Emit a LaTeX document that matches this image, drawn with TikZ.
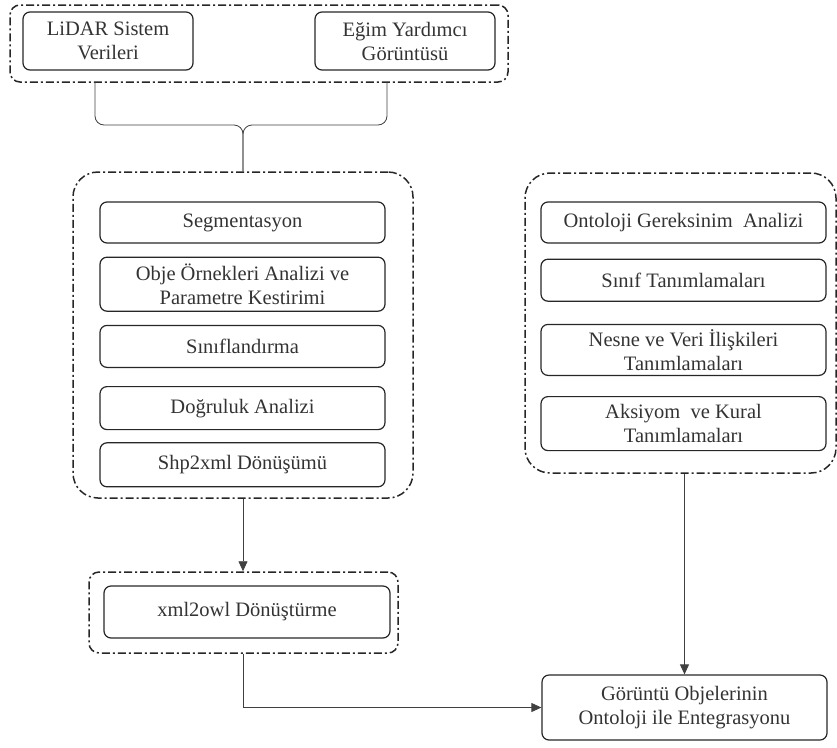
\documentclass[tikz,border=0pt]{standalone}
\usepackage{fontspec}
\setmainfont{Liberation Serif}
\usetikzlibrary{arrows.meta,positioning}

\begin{document}
\begin{tikzpicture}[
  x=1pt, y=-1pt,
  node distance=13pt,
  task/.style={draw=black!85, line width=1.2pt, rounded corners=7pt, minimum width=285pt, minimum height=42pt, align=center, inner sep=2pt, font=\fontsize{20.5}{24}\selectfont, text=black!80},
  group/.style={draw=black!85, line width=1.5pt, dash pattern=on 8pt off 3pt on 2pt off 3pt, rounded corners=25pt},
  link/.style={-{Triangle[width=9pt,length=10pt]}, line width=0.8pt, draw=black!75},
  brace/.style={line width=0.8pt, draw=black!75, rounded corners=9pt},
]
  \useasboundingbox (0,0) rectangle (837,747);

  % Inputs
  \node[group, rounded corners=10pt, minimum width=498pt, minimum height=77pt] (inputs) at (259,43.5) {};
  \node[task, minimum width=170pt, minimum height=58pt] (lidar) at (108,41) {LiDAR Sistem\\Verileri};
  \node[task, minimum width=180pt, minimum height=58pt] (egim) at (405,41) {Eğim Yardımcı\\Görüntüsü};

  % Image analysis
  \node[group, minimum width=340pt, minimum height=326pt] (analysis) at (243,335) {};
  \node[task, minimum height=41pt] (seg) at (242.5,222.5) {Segmentasyon};
  \node[task, minimum height=54pt, below=of seg] (obje) {Obje Örnekleri Analizi ve\\Parametre Kestirimi};
  \node[task, below=of obje] (sinif) {Sınıflandırma};
  \node[task, minimum height=43pt, below=18pt of sinif] (dogru) {Doğruluk Analizi};
  \node[task, minimum height=44pt, below=12pt of dogru] (shp) {Shp2xml Dönüşümü};

  % Conversion
  \node[group, rounded corners=10pt, minimum width=309pt, minimum height=81pt] (convert) at (243.5,612.5) {};
  \node[task, minimum width=286pt, minimum height=52pt] (xmlowl) at (247,612) {xml2owl Dönüştürme};

  % Ontology
  \node[group, minimum width=311pt, minimum height=300pt] (ontology) at (680.5,323) {};
  \node[task, minimum height=41pt] (req) at (683.5,222.5) {Ontoloji Gereksinim~ Analizi};
  \node[task, below=15pt of req] (cls) {Sınıf Tanımlamaları};
  \node[task, minimum height=51pt, below=22pt of cls] (rel) {Nesne ve Veri İlişkileri\\Tanımlamaları};
  \node[task, minimum height=54pt, below=20pt of rel] (axiom) {Aksiyom~ ve Kural\\Tanımlamaları};

  % Result
  \node[task, minimum height=65pt] (result) at (684.5,707.5) {Görüntü Objelerinin\\Ontoloji ile Entegrasyonu};

  % Brace
  \coordinate (bl) at (95,82);
  \coordinate (br) at (387,82);
  \draw[brace] (bl) -- (bl |- 0,125) -- (analysis.north |- 0,125) -- (analysis.north);
  \draw[brace] (br) -- (br |- 0,125) -- (analysis.north |- 0,125) -- (analysis.north);

  % Arrows
  \draw[link] (analysis.south) -- (analysis.south |- convert.north);
  \draw[link] (result.north |- ontology.south) -- (result.north);
  \draw[link] (analysis.south |- convert.south) |- (result.west);

\end{tikzpicture}
\end{document}
